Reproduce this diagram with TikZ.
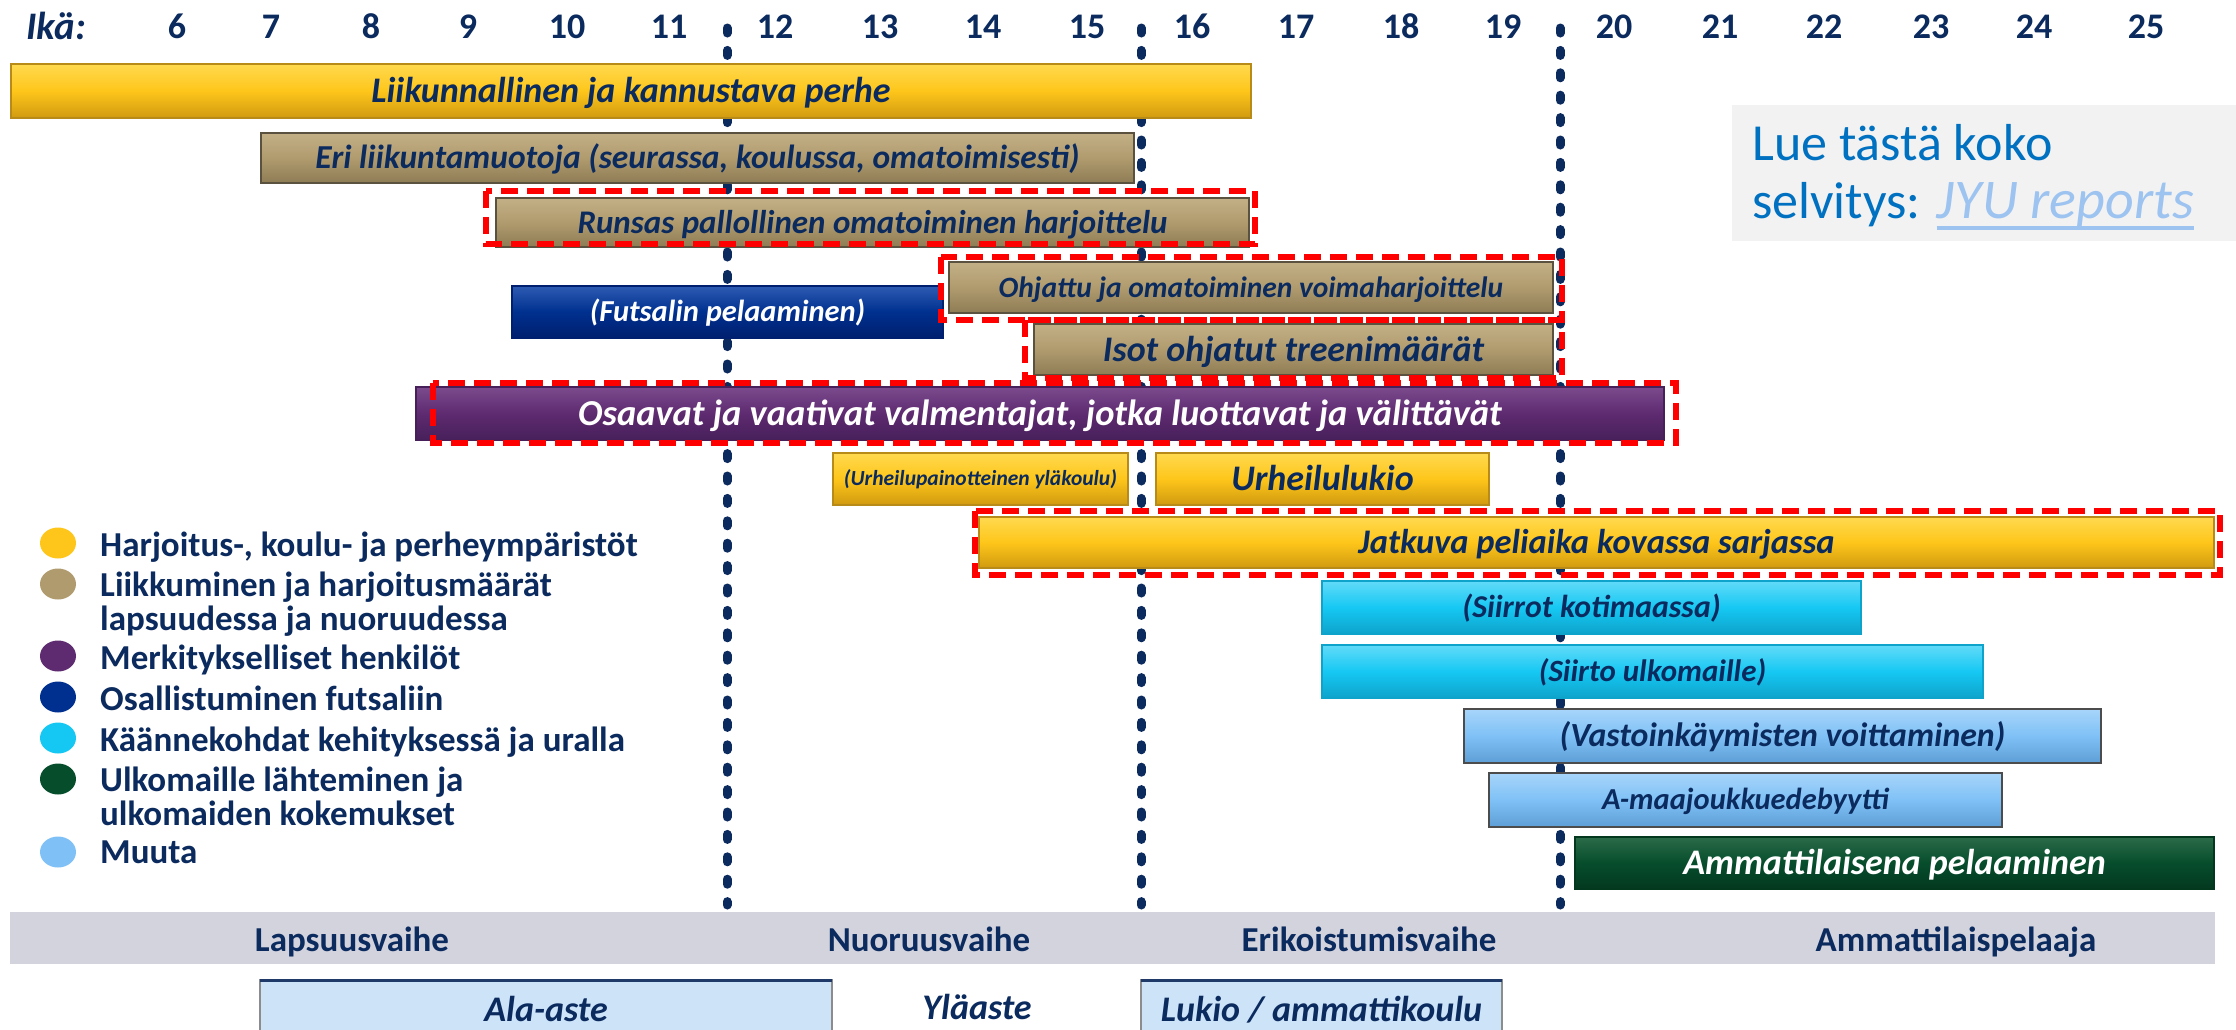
\documentclass[tikz,border=0pt]{standalone}
\usepackage{fontspec}
\setmainfont{Carlito}
\usetikzlibrary{backgrounds,shapes.geometric}
\newcommand\fsz[1]{\fontsize{#1}{#1}\selectfont}
\definecolor{myNavy}{HTML}{0B2A5E}
\definecolor{ylw}{HTML}{FEC61A}
\definecolor{ylwT}{HTML}{FFD94F}
\definecolor{ylwB}{HTML}{D09A10}
\definecolor{ylwE}{HTML}{B88A18}
\definecolor{barTan}{HTML}{B09B6E}
\definecolor{tanT}{HTML}{C3B086}
\definecolor{tanB}{HTML}{8E7C55}
\definecolor{tanE}{HTML}{5B513F}
\definecolor{dkBlue}{HTML}{00308F}
\definecolor{dkBlueT}{HTML}{2D5BB3}
\definecolor{dkBlueB}{HTML}{001F6E}
\definecolor{purp}{HTML}{5E2A70}
\definecolor{purpT}{HTML}{7B4B8D}
\definecolor{purpB}{HTML}{47205A}
\definecolor{cyanb}{HTML}{15C8F3}
\definecolor{cyanT}{HTML}{62DAF8}
\definecolor{cyanB}{HTML}{0EA3CB}
\definecolor{ltBlue}{HTML}{7FC1F6}
\definecolor{ltBlueT}{HTML}{A7D5FA}
\definecolor{ltBlueB}{HTML}{5E9ED6}
\definecolor{grn}{HTML}{064D2C}
\definecolor{grnT}{HTML}{2B6B49}
\definecolor{grnB}{HTML}{03381F}
\definecolor{bandG}{HTML}{D3D3DE}
\definecolor{boxG}{HTML}{F2F2F2}
\definecolor{jyuBlue}{HTML}{0070C0}
\definecolor{jyuLight}{HTML}{9DC3F0}
\definecolor{botBlue}{HTML}{CCE3F8}
\definecolor{botLine}{HTML}{1F3A68}
\definecolor{redDash}{HTML}{FF0000}
\tikzset{
  bar/.style={rectangle, inner sep=0pt, line width=1.2pt},
  bt/.style={font=\bfseries\itshape\fsz{#1}, text height={#1*0.644pt}, text depth=0pt},
  ylwbar/.style={bar, top color=ylwT, bottom color=ylwB, middle color=ylw, draw=ylwE, text=myNavy},
  tanbar/.style={bar, top color=tanT, bottom color=tanB, middle color=barTan, draw=tanE, text=myNavy},
  bluebar/.style={bar, top color=dkBlueT, bottom color=dkBlueB, middle color=dkBlue, draw=dkBlueB, text=white},
  purpbar/.style={bar, top color=purpT, bottom color=purpB, middle color=purp, draw=purpB, text=white},
  cyanbar/.style={bar, top color=cyanT, bottom color=cyanB, middle color=cyanb, draw=cyanB, text=myNavy},
  ltbar/.style={bar, top color=ltBlueT, bottom color=ltBlueB, middle color=ltBlue, draw=black!70, text=myNavy},
  grnbar/.style={bar, top color=grnT, bottom color=grnB, middle color=grn, draw=grnB, text=white},
  redbox/.style={draw=redDash, line width=6pt, dash pattern=on 17pt off 9pt},
  dotline/.style={draw=myNavy, line width=9pt, line cap=round, dash pattern=on 5pt off 17.4pt},
  legdot/.style={ellipse, inner sep=0pt, minimum width=36pt, minimum height=31pt},
  legtext/.style={anchor=west, inner sep=0pt, text=myNavy, font=\bfseries\fsz{35}, text height=22.5pt, text depth=0pt},
  agenum/.style={inner sep=0pt, text=myNavy, font=\bfseries\fsz{36}, text height=23pt, text depth=0pt},
  phase/.style={inner sep=0pt, text=myNavy, font=\bfseries\fsz{35}, text height=22.5pt, text depth=0pt},
  school/.style={inner sep=0pt, text=myNavy, font=\bfseries\itshape\fsz{36}, text height=23.2pt, text depth=0pt},
  jyutext/.style={anchor=base west, inner sep=0pt, font=\fsz{52}}
}
\begin{document}
\begin{tikzpicture}[x=1pt, y=-1pt]
\useasboundingbox (0,0) rectangle (2236,1029);
\fill[white] (0,0) rectangle (2236,1029);
\clip (0,0) rectangle (2236,1029);

% age axis
\node[agenum, font=\bfseries\itshape\fsz{39}, text height=25pt] (ika) at (56,27) {Ikä:};
\foreach \a/\x in {6/177,7/271,8/371,9/468,10/567,11/669,12/775,13/880,14/983,15/1087,16/1192,17/1296,18/1401,19/1503,20/1614,21/1720,22/1824,23/1931,24/2034,25/2146}
  \node[agenum] (age\a) at (\x,27) {\a};

% dotted phase separators
\draw[dotline] (727,28) -- (727,905);
\draw[dotline] (1141,28) -- (1141,905);
\draw[dotline] (1560,28) -- (1560,905);

% bars
\node[ylwbar, bt=36, minimum width=1240pt, minimum height=54pt] (perhe) at (631,91) {Liikunnallinen ja kannustava perhe};
\node[tanbar, bt=33.5, minimum width=873pt, minimum height=50pt] (eri) at (697.5,158) {Eri liikuntamuotoja (seurassa, koulussa, omatoimisesti)};
\node[tanbar, bt=33, minimum width=753pt, minimum height=49pt] (runsas) at (872.5,222.5) {Runsas pallollinen omatoiminen harjoittelu};
\node[tanbar, bt=29.5, minimum width=604pt, minimum height=51pt] (ohjattu) at (1251,287.5) {Ohjattu ja omatoiminen voimaharjoittelu};
\node[tanbar, bt=36, minimum width=519pt, minimum height=51pt] (isot) at (1293.5,349.5) {Isot ohjatut treenimäärät};
\node[bluebar, bt=30.5, minimum width=431pt, minimum height=52pt] (futsal) at (727.5,312) {(Futsalin pelaaminen)};
\node[purpbar, bt=36.5, minimum width=1248pt, minimum height=53pt] (osaavat) at (1040,413.5) {Osaavat ja vaativat valmentajat, jotka luottavat ja välittävät};
\node[ylwbar, bt=21.5, minimum width=295pt, minimum height=52pt] (ylakoulu) at (980.5,479) {(Urheilupainotteinen yläkoulu)};
\node[ylwbar, bt=36, minimum width=333pt, minimum height=52pt] (lukio) at (1322.5,479) {Urheilulukio};
\node[ylwbar, bt=34.5, minimum width=1235pt, minimum height=51pt] (jatkuva) at (1596.5,542.5) {Jatkuva peliaika kovassa sarjassa};
\node[cyanbar, bt=31.8, minimum width=539pt, minimum height=53pt] (siirrot) at (1591.5,607.5) {(Siirrot kotimaassa)};
\node[cyanbar, bt=31, minimum width=661pt, minimum height=53pt] (siirto) at (1652.5,671.5) {(Siirto ulkomaille)};
\node[ltbar, bt=33.8, minimum width=637pt, minimum height=54pt] (vastoin) at (1782.5,736) {(Vastoinkäymisten voittaminen)};
\node[ltbar, bt=30.5, minimum width=513pt, minimum height=54pt] (amaa) at (1745.5,800) {A-maajoukkuedebyytti};
\node[grnbar, bt=36, minimum width=639pt, minimum height=52pt] (ammatti) at (1894.5,863) {Ammattilaisena pelaaminen};

% shadows
\begin{pgfonlayer}{background}
\foreach \n in {perhe,eri,runsas,ohjattu,isot,futsal,osaavat,ylakoulu,lukio,jatkuva,siirrot,siirto,vastoin,amaa,ammatti}
  \fill[black, opacity=0.22] ([shift={(3,4)}]\n.south west) rectangle ([shift={(3,4)}]\n.north east);
\end{pgfonlayer}

% red dashed highlights
\draw[redbox] (486,191) rectangle (1255,244);
\draw[redbox] (941,257) rectangle (1562,320);
\draw[redbox] (1025,320) rectangle (1562,378);
\draw[redbox] (433,383) rectangle (1676,443);
\draw[redbox] (975,511) rectangle (2220,575);

% info box
\node[fill=boxG, minimum width=504pt, minimum height=136pt, anchor=north west, inner sep=0pt] (jyubox) at (1732,105) {};
\node[jyutext, text=jyuBlue] (lue) at (1752,160) {Lue tästä koko};
\node[jyutext, text=jyuBlue] (selv) at (1752,218) {selvitys:};
\node[jyutext, text=jyuLight, font=\itshape\fsz{56}] (jyu) at ([xshift=16pt]selv.base east) {JYU reports};
\draw[jyuLight, line width=4pt] ([yshift=-10pt]jyu.base west) -- ([yshift=-10pt]jyu.base east);

% legend
\node[legdot, fill=ylw] (c1) at (58,543) {};
\node[legtext] (l1) at (100,545) {Harjoitus-, koulu- ja perheympäristöt};
\node[legdot, fill=barTan] (c2) at (58,584) {};
\node[legtext] (l2a) at (100,585) {Liikkuminen ja harjoitusmäärät};
\node[legtext] (l2b) at (100,619) {lapsuudessa ja nuoruudessa};
\node[legdot, fill=purp] (c3) at (58,656) {};
\node[legtext] (l3) at (100,658) {Merkitykselliset henkilöt};
\node[legdot, fill=dkBlue] (c4) at (58,697) {};
\node[legtext] (l4) at (100,699) {Osallistuminen futsaliin};
\node[legdot, fill=cyanb] (c5) at (58,738) {};
\node[legtext] (l5) at (100,740) {Käännekohdat kehityksessä ja uralla};
\node[legdot, fill=grn] (c6) at (58,779) {};
\node[legtext] (l6a) at (100,780) {Ulkomaille lähteminen ja};
\node[legtext] (l6b) at (100,814) {ulkomaiden kokemukset};
\node[legdot, fill=ltBlue] (c7) at (58,852) {};
\node[legtext] (l7) at (100,852) {Muuta};

% phase band
\node[fill=bandG, minimum width=2205pt, minimum height=52pt, anchor=north west, inner sep=0pt] (band) at (10,912) {};
\node[phase] (p1) at (352,940) {Lapsuusvaihe};
\node[phase] (p2) at (929,940) {Nuoruusvaihe};
\node[phase] (p3) at (1369,940) {Erikoistumisvaihe};
\node[phase] (p4) at (1956,940) {Ammattilaispelaaja};

% school levels
\node[school, fill=botBlue, minimum width=572pt, minimum height=60pt, anchor=north] (ala) at (546,980) {Ala-aste};
\draw[black!45, line width=1.5pt] (ala.south west) -- (ala.north west) -- (ala.north east) -- (ala.south east);
\draw[botLine, line width=3pt] (ala.north west) -- (ala.north east);
\node[school] (yla) at (977,1008) {Yläaste};
\node[school, fill=botBlue, minimum width=361pt, minimum height=60pt, anchor=north] (luk) at (1321.5,980) {Lukio / ammattikoulu};
\draw[black!45, line width=1.5pt] (luk.south west) -- (luk.north west) -- (luk.north east) -- (luk.south east);
\draw[botLine, line width=3pt] (luk.north west) -- (luk.north east);
\end{tikzpicture}
\end{document}
